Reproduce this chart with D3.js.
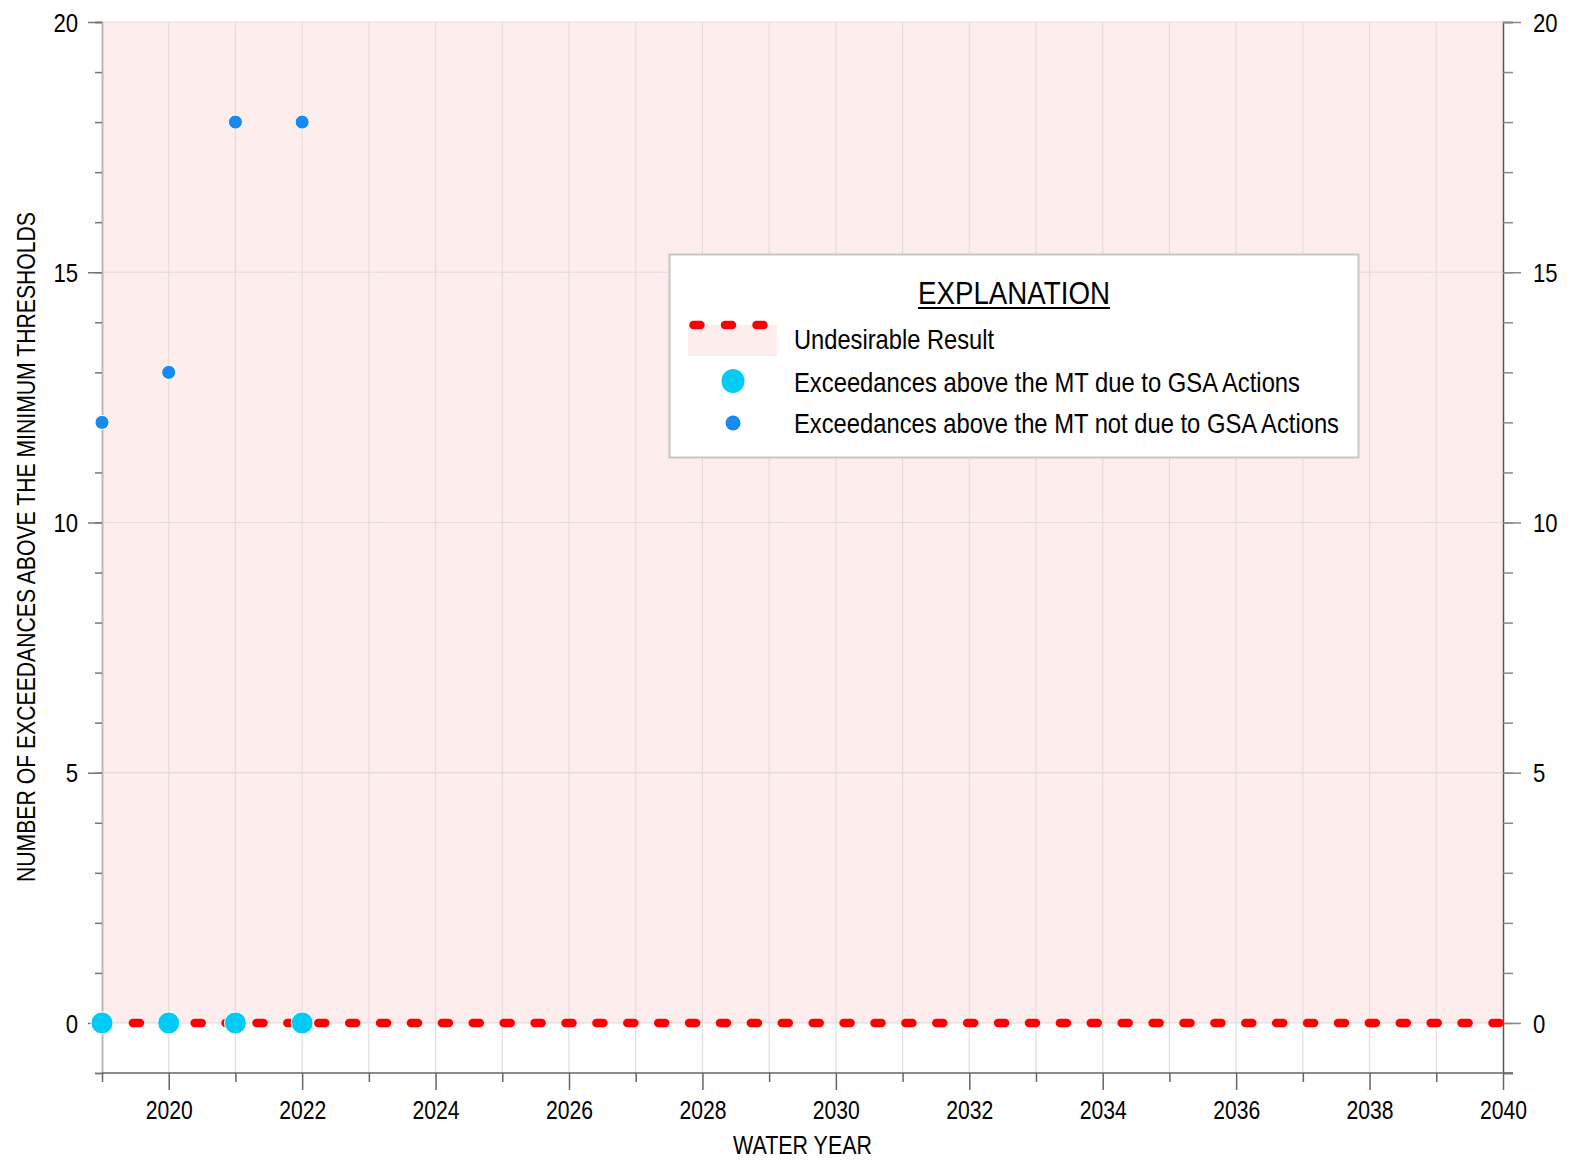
<!DOCTYPE html>
<html>
<head>
<meta charset="utf-8">
<script src="https://cdn.jsdelivr.net/npm/d3@7"></script>
<style>
  html, body { margin: 0; padding: 0; background: #fff; }
  svg { display: block; }
  text { font-family: "Liberation Sans", Arial, sans-serif; fill: #000; }
</style>
</head>
<body>
<svg id="chart" width="1570" height="1161"></svg>
<script>
// ---- data ----
const years = [2019, 2020, 2021, 2022];
const dueToGSA = [0, 0, 0, 0];
const notDueToGSA = [12, 13, 18, 18];
const undesirableYears = [2019, 2040];
const undesirableValues = [0, 0];
const yTickValues = [0, 5, 10, 15, 20];
const xTickLabels = [2020, 2022, 2024, 2026, 2028, 2030, 2032, 2034, 2036, 2038, 2040];
const legendLabels = ["Undesirable Result", "Exceedances above the MT due to GSA Actions", "Exceedances above the MT not due to GSA Actions"];

(function draw() {
// ---- layout ----
const svg = d3.select("#chart");
const pL = 102, pR = 1503, pT = 22, pB = 1073;
const x = d3.scaleLinear().domain([2019, 2040]).range([pL, pR]);
const y = d3.scaleLinear().domain([-1, 20]).range([pB, pT]);

const pink = "#fdeded";
const gridColor = "#e4dcdc";
const red = "#ff0000";
const cyan = "#00cbf6";
const blue = "#1689f2";

// pink undesirable region (0..20)
svg.append("rect")
  .attr("x", x(2019)).attr("y", y(20))
  .attr("width", x(2040) - x(2019)).attr("height", y(0) - y(20))
  .attr("fill", pink);

// grid lines
const g = svg.append("g");
g.selectAll("line.vg").data(d3.range(2020, 2040)).join("line")
  .attr("x1", d => x(d)).attr("x2", d => x(d))
  .attr("y1", y(20)).attr("y2", y(-1))
  .attr("stroke", gridColor).attr("stroke-width", 1.2);
g.selectAll("line.hg").data([0, 5, 10, 15, 20]).join("line")
  .attr("x1", pL).attr("x2", pR)
  .attr("y1", d => y(d)).attr("y2", d => y(d))
  .attr("stroke", gridColor).attr("stroke-width", 1.2);

function fit(sel, w) {
  sel.attr("textLength", w).attr("lengthAdjust", "spacingAndGlyphs");
  return sel;
}

// left axis
const yMinor = d3.range(-1, 21);
const axL = svg.append("g").attr("transform", `translate(${pL},0)`)
  .call(d3.axisLeft(y).tickValues(yMinor).tickSize(7).tickFormat(""));
axL.select(".domain").attr("stroke", "#bdb7b7").attr("stroke-width", 2);
axL.selectAll(".tick line").attr("stroke", "#777").attr("stroke-width", 1.5);
const axL2 = svg.append("g").attr("transform", `translate(${pL},0)`)
  .call(d3.axisLeft(y).tickValues(yTickValues).tickSize(14).tickPadding(10).tickFormat(d3.format("d")));
axL2.select(".domain").remove();
axL2.selectAll(".tick line").attr("stroke", "#777").attr("stroke-width", 1.5);
axL2.selectAll(".tick text").attr("font-size", 26).attr("fill", "#000")
  .style("font-family", "Liberation Sans").attr("dy", "0.35em")
  .each(function(d) { d3.select(this).call(fit, String(d).length * 12.3); });

// right axis
const axR = svg.append("g").attr("transform", `translate(${pR},0)`)
  .call(d3.axisRight(y).tickValues(yMinor).tickSize(10).tickFormat(""));
axR.select(".domain").attr("stroke", "#555").attr("stroke-width", 1.5);
axR.selectAll(".tick line").attr("stroke", "#888").attr("stroke-width", 1.5);
const axR2 = svg.append("g").attr("transform", `translate(${pR},0)`)
  .call(d3.axisRight(y).tickValues(yTickValues).tickSize(18).tickPadding(12).tickFormat(d3.format("d")));
axR2.select(".domain").remove();
axR2.selectAll(".tick line").attr("stroke", "#888").attr("stroke-width", 1.5);
axR2.selectAll(".tick text").attr("font-size", 26).attr("fill", "#000")
  .style("font-family", "Liberation Sans").attr("dy", "0.35em")
  .each(function(d) { d3.select(this).call(fit, String(d).length * 12.3); });

// bottom axis
const axB = svg.append("g").attr("transform", `translate(0,${pB})`)
  .call(d3.axisBottom(x).tickValues(d3.range(2019, 2040, 2)).tickSize(9).tickFormat(""));
axB.select(".domain").remove();
axB.selectAll(".tick line").attr("stroke", "#666").attr("stroke-width", 1.5);
svg.append("line").attr("x1", pL).attr("x2", pR + 10)
  .attr("y1", pB).attr("y2", pB).attr("stroke", "#666").attr("stroke-width", 1.5);
const axB2 = svg.append("g").attr("transform", `translate(0,${pB})`)
  .call(d3.axisBottom(x).tickValues(xTickLabels).tickSize(17).tickPadding(11).tickFormat(d3.format("d")));
axB2.select(".domain").remove();
axB2.selectAll(".tick line").attr("stroke", "#666").attr("stroke-width", 1.5);
axB2.selectAll(".tick text").attr("font-size", 26).attr("fill", "#000")
  .style("font-family", "Liberation Sans")
  .each(function(d) { d3.select(this).call(fit, 47); });

// axis titles
svg.append("text")
  .attr("x", (pL + pR) / 2).attr("y", 1154)
  .attr("text-anchor", "middle").attr("font-size", 25)
  .text("WATER YEAR").call(fit, 139);
svg.append("text")
  .attr("transform", `translate(35,547) rotate(-90)`)
  .attr("text-anchor", "middle").attr("font-size", 25)
  .text("NUMBER OF EXCEEDANCES ABOVE THE MINIMUM THRESHOLDS").call(fit, 670);

// undesirable result dotted line
const line = d3.line().x(d => x(d[0])).y(d => y(d[1]));
svg.append("path")
  .datum(undesirableYears.map((yr, i) => [yr, undesirableValues[i]]))
  .attr("d", line)
  .attr("fill", "none").attr("stroke", red).attr("stroke-width", 8.5)
  .attr("stroke-linecap", "round").attr("stroke-dasharray", "7 23.9");

// points
svg.selectAll("circle.due").data(years.map((yr, i) => [yr, dueToGSA[i]])).join("circle")
  .attr("cx", d => x(d[0])).attr("cy", d => y(d[1])).attr("r", 11)
  .attr("fill", cyan).attr("stroke", "#fff").attr("stroke-width", 1);
svg.selectAll("circle.notdue").data(years.map((yr, i) => [yr, notDueToGSA[i]])).join("circle")
  .attr("cx", d => x(d[0])).attr("cy", d => y(d[1])).attr("r", 7)
  .attr("fill", blue).attr("stroke", "#fff").attr("stroke-width", 1);

// legend
const lg = svg.append("g");
lg.append("rect").attr("x", 669.5).attr("y", 254.5).attr("width", 689).attr("height", 203)
  .attr("fill", "#fff").attr("stroke", "#c9c6c6").attr("stroke-width", 2);
lg.append("text").attr("x", 1014).attr("y", 304).attr("text-anchor", "middle")
  .attr("font-size", 31).text("EXPLANATION").call(fit, 192);
lg.append("line").attr("x1", 918).attr("x2", 1110).attr("y1", 308).attr("y2", 308)
  .attr("stroke", "#000").attr("stroke-width", 2);
lg.append("rect").attr("x", 688).attr("y", 325).attr("width", 89).attr("height", 31).attr("fill", pink);
lg.append("path").attr("d", "M693.5,325H771")
  .attr("stroke", red).attr("stroke-width", 8.5).attr("stroke-linecap", "round")
  .attr("stroke-dasharray", "7 24.5").attr("fill", "none");
lg.append("ellipse").attr("cx", 733).attr("cy", 381).attr("rx", 11.5).attr("ry", 12)
  .attr("fill", cyan);
lg.append("ellipse").attr("cx", 733).attr("cy", 423).attr("rx", 7.5).attr("ry", 7.5)
  .attr("fill", blue);
const legendY = [349, 392, 433];
const legendW = [200, 506, 545];
legendLabels.forEach((t, i) => {
  lg.append("text").attr("x", 794).attr("y", legendY[i]).attr("font-size", 28)
    .text(t).call(fit, legendW[i]);
});
})();
</script>
</body>
</html>
